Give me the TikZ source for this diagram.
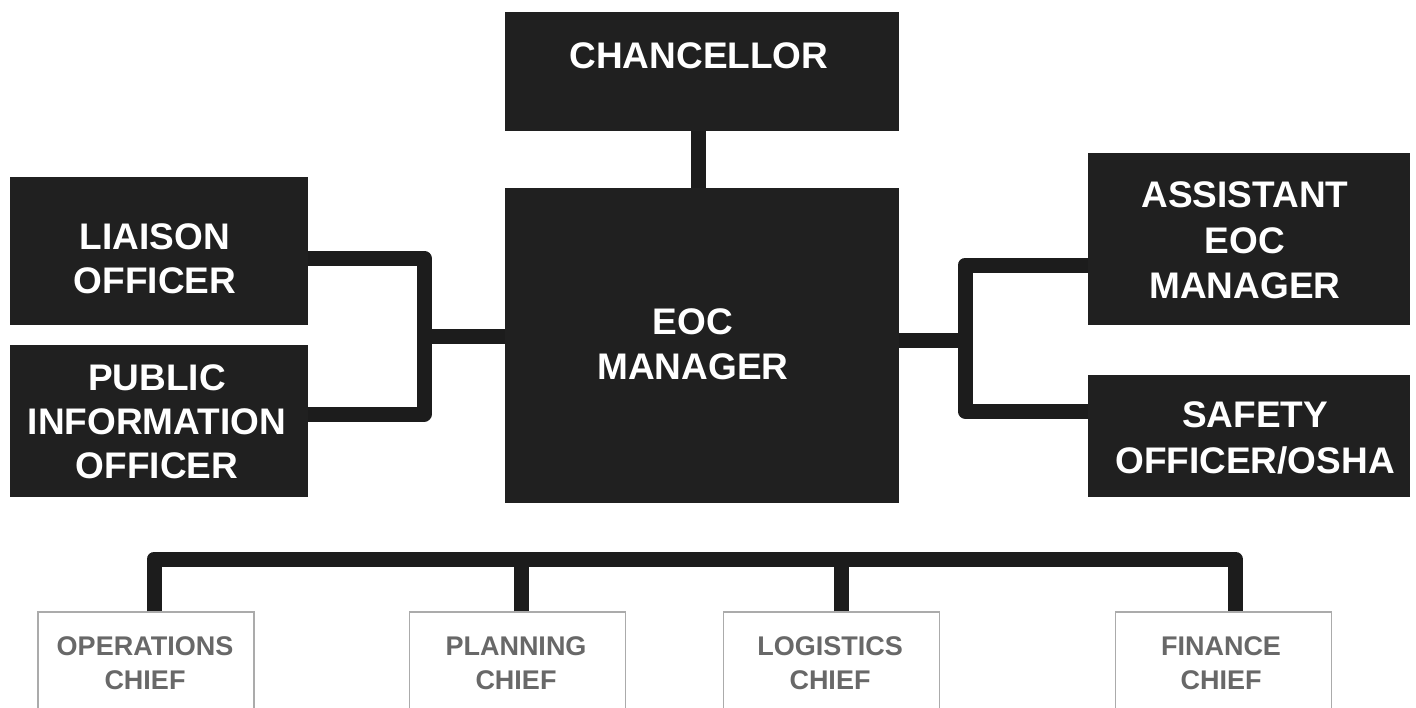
\documentclass[tikz,border=0pt]{standalone}
\usepackage{fontspec}
\setmainfont{Liberation Sans}
\definecolor{boxdark}{HTML}{202020}
\definecolor{linedark}{HTML}{1C1C1C}
\definecolor{chiefborder}{HTML}{ABABAB}
\definecolor{chieftext}{HTML}{686868}
\tikzset{
  darkbox/.style={fill=boxdark, draw=none, inner sep=0pt},
  darktext/.style={text=white, align=center, inner sep=0pt,
    font=\bfseries\fontsize{37}{45}\selectfont},
  chiefbox/.style={fill=white, draw=chiefborder, line width=1.5pt, inner sep=0pt,
    minimum width=216pt, minimum height=128pt},
  chieftxt/.style={text=chieftext, align=center, inner sep=0pt,
    font=\bfseries\fontsize{27}{34}\selectfont},
  conn/.style={draw=linedark, line width=15pt, line join=round}
}
\begin{document}
\begin{tikzpicture}[x=1pt,y=-1pt]
\fill[white] (0,0) rectangle (1416,707);
\clip (0,0) rectangle (1416,707);
\useasboundingbox (0,0) rectangle (1416,707);

\coordinate (lt) at (424,258);
\coordinate (lb) at (424,414);
\coordinate (lm) at (424,336);
\coordinate (rt) at (965,265);
\coordinate (rb) at (965,411);
\coordinate (rm) at (965,340);
\coordinate (bus) at (700,559);

% boxes
\node[darkbox, minimum width=394pt, minimum height=119pt] (chan) at (702,71.5) {};
\node[darkbox, minimum width=394pt, minimum height=315pt] (eoc) at (702,345.5) {};
\node[darkbox, minimum width=298pt, minimum height=148pt] (liaison) at (159,251) {};
\node[darkbox, minimum width=298pt, minimum height=152pt] (pio) at (159,421) {};
\node[darkbox, minimum width=322pt, minimum height=172pt] (asst) at (1249,239) {};
\node[darkbox, minimum width=322pt, minimum height=122pt] (safety) at (1249,436) {};

\node[chiefbox] (ops) at (146,676) {};
\node[chiefbox] (plan) at (517.5,676) {};
\node[chiefbox] (log) at (831.5,676) {};
\node[chiefbox] (fin) at (1223.5,676) {};

% texts
\node[darktext] (chanT) at (699,56) {CHANCELLOR};
\node[darktext] (eocT) at (693,344.5) {EOC\\MANAGER};
\node[darktext, font=\bfseries\fontsize{37}{44}\selectfont] (liaisonT) at (155,259) {LIAISON\\OFFICER};
\node[darktext, font=\bfseries\fontsize{37}{44}\selectfont] (pioT) at (157,422) {PUBLIC\\INFORMATION\\OFFICER};
\node[darktext, font=\bfseries\fontsize{37}{45.5}\selectfont] (asstT) at (1245,240.5) {ASSISTANT\\EOC\\MANAGER};
\node[darktext, font=\bfseries\fontsize{37}{46}\selectfont] (safetyT) at (1255,438) {SAFETY\\OFFICER/OSHA};

\node[chieftxt] (opsT) at (145,663) {OPERATIONS\\CHIEF};
\node[chieftxt] (planT) at (516,663) {PLANNING\\CHIEF};
\node[chieftxt] (logT) at (830,663) {LOGISTICS\\CHIEF};
\node[chieftxt] (finT) at (1221,663) {FINANCE\\CHIEF};

% connectors
\draw[conn] ([xshift=-4pt]chan.south) -- ([xshift=-4pt]eoc.north);
\draw[conn] (liaison.east |- lt) -- (lt) -- (lb) -- (pio.east |- lb);
\draw[conn] (lm) -- (eoc.west |- lm);
\draw[conn] (asst.west |- rt) -- (rt) -- (rb) -- (safety.west |- rb);
\draw[conn] (eoc.east |- rm) -- (rm);
\draw[conn] ([xshift=8pt]ops.north) |- (bus) -| ([xshift=12pt]fin.north);
\draw[conn] ([xshift=4pt]plan.north) -- ([xshift=4pt]plan.north |- bus);
\draw[conn] ([xshift=10pt]log.north) -- ([xshift=10pt]log.north |- bus);
\end{tikzpicture}
\end{document}
